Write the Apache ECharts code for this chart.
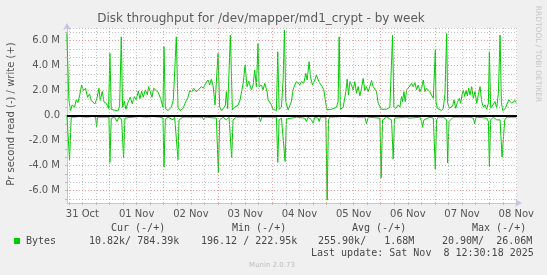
<!DOCTYPE html>
<html><head><meta charset="utf-8">
<script src="https://cdn.jsdelivr.net/npm/echarts@6/dist/echarts.min.js"></script>
<style>html,body{margin:0;padding:0;background:#f0f0f0}#c{width:547px;height:275px}</style>
</head><body><div id="c"></div>
<script>
// hours since 31 Oct 00:00, value in M bytes/s
const writeData = [
[5.15,6.56],[5.74,6.56],[6.03,1.25],[6.77,0.40],[7.51,0.85],[8.54,0.66],[9.28,1.25],[10.02,1.04],[10.76,1.57],[11.64,2.42],
[12.53,1.99],[13.41,2.18],[14.30,1.46],[15.19,1.73],[15.92,1.20],[16.66,1.35],[17.55,0.93],[18.43,1.35],[19.32,2.18],[19.91,1.20],
[20.80,1.94],[21.53,1.09],[22.57,0.98],[23.60,0.56],[24.19,4.97],[24.78,0.50],[26.26,0.42],[27.73,0.37],[28.47,0.72],[29.21,6.29],
[29.80,0.66],[30.54,1.14],[31.28,0.50],[32.16,1.04],[33.20,1.46],[34.08,0.93],[34.97,1.51],[35.85,1.25],[36.74,1.97],[37.48,1.35],
[38.22,1.94],[38.95,1.46],[39.84,2.05],[40.72,1.67],[41.32,2.31],[42.05,1.89],[42.79,1.46],[43.53,2.18],[44.71,1.99],[45.60,1.83],
[46.63,1.35],[47.66,0.66],[48.11,5.50],[48.70,0.56],[49.88,0.40],[51.35,0.66],[52.24,1.25],[53.57,6.29],[54.31,0.66],[55.19,0.40],
[56.52,0.56],[57.70,1.09],[58.74,1.46],[59.47,1.99],[60.36,1.89],[61.24,2.18],[62.43,1.89],[63.31,2.05],[64.64,2.31],[65.53,2.18],
[66.56,2.58],[67.59,2.84],[68.33,2.44],[69.07,2.90],[69.81,2.42],[70.69,0.85],[72.02,4.97],[72.76,0.66],[73.65,0.40],[74.53,0.29],
[75.27,0.82],[75.71,1.91],[76.30,0.56],[77.48,6.43],[78.37,0.45],[79.40,0.66],[80.88,0.82],[81.76,1.25],[82.50,1.94],[83.24,2.68],
[83.98,4.04],[84.87,2.31],[85.60,2.74],[86.05,2.58],[86.79,2.05],[87.53,2.44],[88.26,3.64],[89.00,2.31],[89.74,5.76],[90.18,2.31],
[91.22,2.44],[91.95,2.05],[92.69,2.58],[93.73,1.91],[94.17,1.25],[94.91,1.12],[95.65,0.85],[96.38,0.50],[97.12,0.66],[97.86,0.40],
[98.45,5.10],[99.04,0.50],[100.07,0.66],[100.81,2.84],[101.40,6.83],[101.99,1.12],[103.03,0.45],[103.76,0.58],[104.50,1.12],[105.24,2.05],
[105.98,2.44],[106.72,2.71],[107.46,2.58],[108.19,2.44],[108.93,2.71],[109.96,2.58],[110.85,3.37],[111.44,2.84],[112.33,4.30],[112.92,3.11],
[113.80,2.44],[114.84,2.84],[115.57,3.24],[116.61,2.71],[117.35,2.58],[118.08,2.31],[118.82,2.05],[119.71,0.98],[120.30,0.45],[121.18,0.40],
[122.22,0.50],[122.96,0.40],[124.43,0.66],[125.17,1.12],[125.61,6.29],[126.20,0.50],[127.38,0.66],[128.57,1.91],[129.16,2.90],[129.75,1.65],
[130.34,2.71],[131.07,2.44],[131.81,2.05],[132.55,2.71],[133.29,1.78],[134.03,2.31],[134.77,1.57],[135.50,2.18],[136.24,2.97],[136.98,1.99],
[137.72,2.31],[138.46,1.91],[139.19,2.31],[139.93,2.79],[140.67,2.31],[141.41,2.44],[142.15,1.91],[142.89,0.98],[143.62,0.98],[144.36,0.50],
[145.10,0.45],[146.58,0.50],[148.05,0.66],[149.23,6.43],[149.82,0.66],[150.71,0.58],[151.74,0.85],[152.48,0.66],[153.22,1.51],[153.66,1.12],
[154.25,1.91],[154.84,1.12],[155.43,2.05],[156.17,1.99],[156.91,2.36],[157.65,2.58],[158.39,2.31],[159.13,2.63],[159.86,2.05],[160.60,2.44],
[161.34,1.91],[162.08,2.18],[162.81,2.84],[163.55,1.91],[164.29,2.18],[165.03,2.31],[165.77,1.91],[166.39,1.65],[167.28,1.38],[167.87,1.25],
[168.16,5.23],[168.46,1.12],[169.05,0.58],[169.93,0.45],[170.97,0.40],[171.70,0.58],[172.44,1.78],[173.18,6.56],[173.62,0.98],[174.36,0.58],
[175.10,0.45],[175.84,0.77],[176.43,1.25],[177.17,0.58],[177.91,1.04],[178.79,1.38],[179.38,0.98],[179.97,1.65],[180.56,2.05],[181.15,1.51],
[181.74,1.99],[182.33,1.57],[182.92,2.18],[183.52,1.65],[184.25,2.31],[184.99,1.38],[185.73,1.91],[186.47,0.98],[187.21,1.65],[187.94,2.31],
[188.68,1.12],[189.42,0.66],[190.16,0.85],[190.90,0.50],[191.63,0.98],[192.08,5.10],[192.67,0.58],[193.55,0.72],[194.59,1.12],[195.32,0.58],
[196.06,1.78],[196.80,6.43],[197.39,1.04],[197.98,0.40],[198.87,0.50],[199.75,0.85],[200.64,1.25],[201.23,1.12],[201.97,0.98],[202.71,1.12],
[203.44,1.20],[203.89,1.04]
];
const readData = [
[5.15,0],[5.74,-0.08],[6.33,-3.53],[7.07,-0.13],[8.54,-0.13],[10.76,-0.08],[13.71,-0.13],[16.66,-0.08],[17.84,-0.13],[18.29,-0.88],
[18.73,-0.13],[22.57,-0.13],[23.75,-0.13],[24.19,-3.75],[24.78,-0.21],[26.26,-0.13],[27.29,-0.48],[28.18,-0.13],[29.36,-0.29],[30.24,-3.40],
[30.83,-0.21],[34.38,-0.13],[37.33,-0.08],[40.28,-0.13],[43.23,-0.08],[46.19,-0.13],[47.66,-0.21],[48.11,-4.12],[48.70,-0.29],[49.88,-0.13],
[52.09,-0.35],[52.83,-0.13],[54.31,-3.53],[54.75,-0.35],[56.52,-0.13],[60.95,-0.13],[65.08,-0.13],[65.67,-0.35],[66.26,-0.13],[71.28,-0.21],
[72.17,-4.59],[72.76,-0.35],[74.24,-0.13],[75.71,-0.35],[76.15,-0.48],[76.89,-0.13],[78.07,-3.40],[78.66,-0.35],[80.14,-0.13],[82.35,-0.13],
[85.60,-0.13],[86.05,-0.08],[89.00,-0.13],[90.18,-0.08],[90.77,-0.48],[91.36,-0.13],[94.91,-0.13],[97.86,-0.13],[98.45,-3.75],[99.04,-0.35],
[100.07,-0.21],[100.81,-0.35],[101.70,-3.67],[102.29,-0.29],[106.72,-0.13],[110.41,-0.21],[111.15,-0.48],[111.88,-0.13],[113.36,-0.35],[114.10,-0.61],
[114.84,-0.13],[116.31,-0.21],[116.76,-0.48],[117.35,-0.13],[119.71,-0.13],[120.30,-6.77],[120.89,-0.35],[121.48,-0.13],[127.38,-0.08],[133.29,-0.13],
[136.98,-0.13],[137.72,-0.66],[138.46,-0.13],[143.62,-0.21],[144.21,-4.99],[144.80,-0.35],[146.58,-0.13],[148.79,-0.35],[149.53,-3.48],[150.12,-0.21],
[155.43,-0.13],[156.91,-0.21],[161.34,-0.13],[162.08,-0.48],[162.52,-0.93],[163.11,-0.35],[165.77,-0.13],[167.28,-0.21],[167.87,-0.21],[168.16,-4.28],
[168.75,-0.35],[169.49,-0.13],[171.70,-0.13],[173.18,-0.35],[173.62,-3.80],[174.21,-0.48],[174.95,-0.35],[176.13,-0.13],[183.52,-0.13],[185.00,-0.21],
[185.58,-0.66],[186.17,-0.13],[190.90,-0.21],[191.63,-0.48],[192.08,-4.06],[192.67,-0.35],[193.85,-0.13],[195.32,-0.35],[196.06,-0.48],[196.80,-0.35],
[197.69,-3.32],[198.28,-3.40],[198.87,-0.35],[199.75,-0.13],[203.89,-0.13]
];
const dayLabels = ['31 Oct','01 Nov','02 Nov','03 Nov','04 Nov','05 Nov','06 Nov','07 Nov','08 Nov'];
const dayLabelHours = [12,36,60,84,108,132,156,180,204];
const yLabelValues = [-6,-4,-2,0,2,4,6];
const legendHeaders = ['Cur (-/+)','Min (-/+)','Avg (-/+)','Max (-/+)'];
const legendValues = ['10.82k/ 784.39k','196.12 / 222.95k','255.90k/   1.68M','20.90M/  26.06M'];
const seriesName = 'Bytes';
const titleText = 'Disk throughput for /dev/mapper/md1_crypt - by week';
const yName = 'Pr second read (-) / write (+)';
const lastUpdate = 'Last update: Sat Nov  8 12:30:18 2025';

const X_MIN = 5.2, X_MAX = 204.3, Y_MIN = -7, Y_MAX = 7;
const green = '#00cc00';
const majorStyle = {color:'rgba(230,120,120,0.7)', width:1, type:[1,2]};
const minorStyle = {color:'rgba(175,175,175,0.75)', width:1, type:[1,2]};

const gridLines = [];
for (let h = 6; h < X_MAX; h += 6) {
  gridLines.push({xAxis: h, lineStyle: h % 24 === 0 ? majorStyle : minorStyle});
}
for (let k = -10; k <= 10; k++) {
  if (k === 0) continue;
  gridLines.push({yAxis: k * 2 / 3, lineStyle: k % 3 === 0 ? majorStyle : minorStyle});
}
gridLines.push({yAxis: 7, lineStyle: minorStyle});
const xTicks = [];
for (let h = 6; h < X_MAX; h += 6) xTicks.push(h);
const yTicks = [];
for (let k = -10; k <= 10; k++) yTicks.push(k * 2 / 3);

const mono = '10px "DejaVu Sans Mono"';
const txtCol = '#484848';
const graphics = [
  {type:'text', x:261, y:19, style:{text:titleText, font:'12px "DejaVu Sans"', fill:'#5a5a5a', textAlign:'center', textVerticalAlign:'middle', align:'center', verticalAlign:'middle'}},
  {type:'text', x:11, y:114, rotation:Math.PI/2, style:{text:yName, font:'10px "DejaVu Sans"', fill:'#555', textAlign:'center', textVerticalAlign:'middle', align:'center', verticalAlign:'middle'}},
  {type:'text', x:538, y:54, rotation:-Math.PI/2, style:{text:'RRDTOOL / TOBI OETIKER', font:'7.5px "DejaVu Sans"', fill:'#c4c4c4', textAlign:'center', textVerticalAlign:'middle', align:'center', verticalAlign:'middle'}},
  {type:'rect', shape:{x:14, y:238, width:6, height:6}, style:{fill:green}},
  {type:'text', x:26, y:241, style:{text:seriesName, font:mono, fill:txtCol, textVerticalAlign:'middle', verticalAlign:'middle'}},
  {type:'text', x:311, y:253.5, style:{text:lastUpdate, font:mono, fill:txtCol, textVerticalAlign:'middle', verticalAlign:'middle'}},
  {type:'text', x:272, y:265, style:{text:'Munin 2.0.73', font:'7px "DejaVu Sans"', fill:'#bdbdbd', textAlign:'center', textVerticalAlign:'middle', align:'center', verticalAlign:'middle'}}
];
const headerX = [111, 232, 352, 472];
const valueX = [89, 201, 318, 442];
legendHeaders.forEach((t, i) => graphics.push({type:'text', x:headerX[i], y:228, style:{text:t, font:mono, fill:txtCol, textVerticalAlign:'middle', verticalAlign:'middle'}}));
legendValues.forEach((t, i) => graphics.push({type:'text', x:valueX[i], y:241, style:{text:t, font:mono, fill:txtCol, textVerticalAlign:'middle', verticalAlign:'middle'}}));

const axisCol = '#c6c6ec';
const chart = echarts.init(document.getElementById('c'), null, {renderer:'canvas'});
chart.setOption({
  animation: false,
  backgroundColor: '#f0f0f0',
  grid: {left:67, right:30, top:28, bottom:72, show:true, backgroundColor:'#ffffff', borderWidth:0},
  xAxis: {
    type:'value', min:X_MIN, max:X_MAX,
    axisLine:{show:true, onZero:false, lineStyle:{color:axisCol, width:1}, symbol:['none','arrow'], symbolSize:[6,7], symbolOffset:[0,5]},
    axisTick:{show:true, customValues:xTicks, length:2, lineStyle:{color:'#bbbbbb'}},
    axisLabel:{customValues:dayLabelHours, formatter:v => dayLabels[dayLabelHours.indexOf(Math.round(v))] || '', color:'#555', fontFamily:'DejaVu Sans', fontSize:10, margin:6},
    splitLine:{show:false}
  },
  yAxis: {
    type:'value', min:Y_MIN, max:Y_MAX,
    axisLine:{show:true, onZero:false, lineStyle:{color:axisCol, width:1}, symbol:['none','arrow'], symbolSize:[6,7], symbolOffset:[0,5]},
    axisTick:{show:true, customValues:yTicks, length:2, lineStyle:{color:'#bbbbbb'}},
    axisLabel:{customValues:yLabelValues, formatter:v => v === 0 ? '0.0' : v.toFixed(1) + ' M', color:'#555', fontFamily:'DejaVu Sans', fontSize:10, margin:7},
    splitLine:{show:false}
  },
  series: [
    {type:'line', z:1, data:[[X_MIN,0]], showSymbol:false, lineStyle:{opacity:0}, silent:true,
     markLine:{silent:true, symbol:['none','none'], label:{show:false}, animation:false, data:gridLines}},
    {type:'line', name:seriesName, z:3, data:writeData, showSymbol:false, lineStyle:{color:green, width:1}, silent:true},
    {type:'line', name:seriesName, z:3, data:readData, showSymbol:false, lineStyle:{color:green, width:1}, silent:true},
    {type:'line', z:4, data:[[X_MIN,0]], showSymbol:false, lineStyle:{opacity:0}, silent:true,
     markLine:{silent:true, symbol:['none','none'], label:{show:false}, animation:false, data:[{yAxis:0, lineStyle:{color:'#000', width:2, type:'solid'}}]}}
  ],
  graphic: graphics
});
</script></body></html>
